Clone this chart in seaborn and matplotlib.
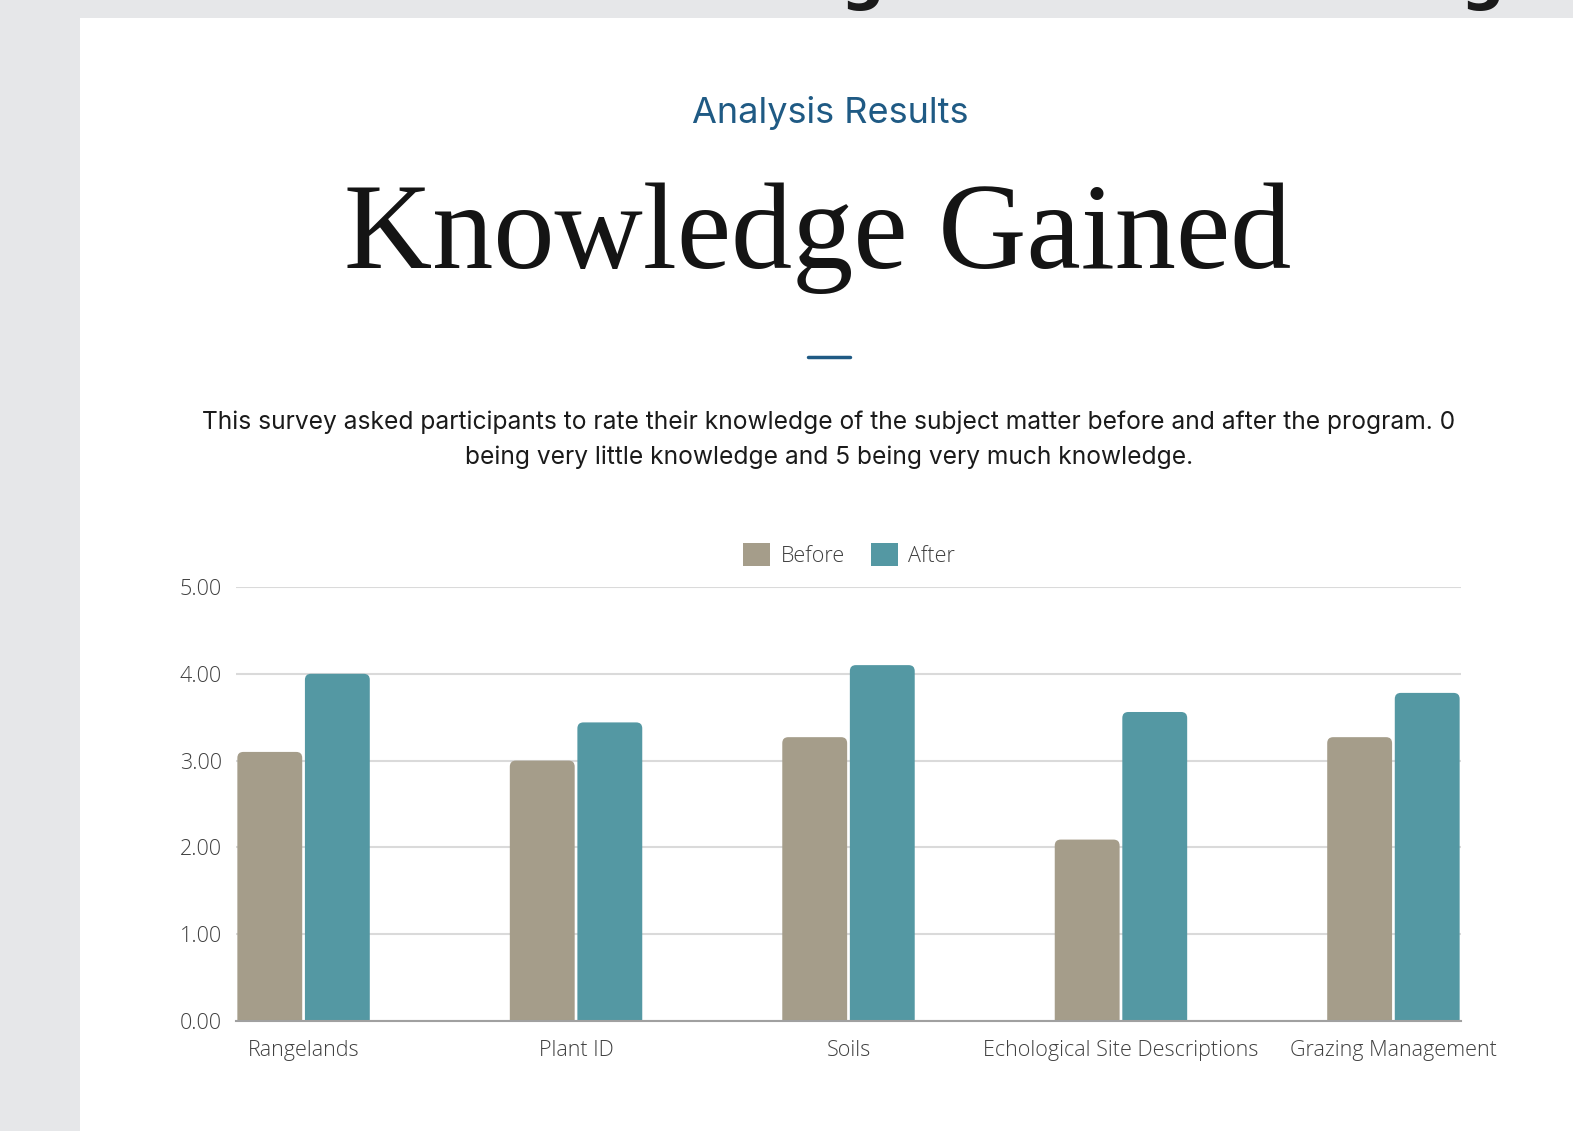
import matplotlib
matplotlib.use("Agg")
import matplotlib.pyplot as plt
import seaborn as sns
import pandas as pd
from matplotlib.patches import FancyBboxPatch, Rectangle, Patch
from matplotlib.lines import Line2D

categories = ["Rangelands", "Plant ID", "Soils", "Echological Site Descriptions", "Grazing Management"]
before = [3.10, 3.00, 3.27, 2.09, 3.27]
after = [4.00, 3.44, 4.10, 3.56, 3.78]
series_names = ["Before", "After"]
colors = ["#a59d8a", "#5498a3"]
yticks = [0, 1, 2, 3, 4, 5]

df = pd.DataFrame({
    "category": categories * 2,
    "value": before + after,
    "series": [series_names[0]] * len(categories) + [series_names[1]] * len(categories),
})

sns.set_theme(style="white")
plt.rcParams["font.family"] = ["Open Sans", "DejaVu Sans"]

W, H = 1573, 1131
fig = plt.figure(figsize=(W / 100, H / 100), dpi=100)
fig.patch.set_facecolor("#e6e7e9")
fig.add_artist(Rectangle((80 / W, 0), 1, 1 - 18 / H, transform=fig.transFigure,
                         facecolor="white", edgecolor="none", zorder=-5))

# cut-off glyphs from the page above
for gx, s in [(862, "g"), (1482, "g")]:
    fig.text(gx / W, 1 + 2 / H, s, fontsize=44, fontweight="bold", color="#1a1a1a",
             ha="center", va="baseline", family=["DejaVu Sans"])

ax = fig.add_axes([236 / W, 1 - 1021 / H, (1461 - 236) / W, (1021 - 587) / H])
ax.set_facecolor("none")

sns.barplot(data=df, x="category", y="value", hue="series", palette=colors,
            order=categories, hue_order=series_names, width=0.496, gap=0.04,
            saturation=1, legend=False, ax=ax, errorbar=None)

# rounded top corners
for p in list(ax.patches):
    x, w, h = p.get_x(), p.get_width(), p.get_height()
    fc = p.get_facecolor()
    p.remove()
    fb = FancyBboxPatch((x, -0.3), w, h + 0.3,
                        boxstyle="round,pad=0,rounding_size=0.022",
                        mutation_aspect=3.15, facecolor=fc, edgecolor="none",
                        zorder=2, clip_on=True)
    ax.add_patch(fb)

ax.set_xlim(-0.248, 4.248)
ax.set_ylim(0, 5)
ax.set_yticks(yticks)
ax.set_yticklabels([f"{v:.2f}" for v in yticks])
ax.set_xlabel("")
ax.set_ylabel("")
ax.set_axisbelow(True)
ax.yaxis.grid(True, color="#dadada", linewidth=1.5)
ax.xaxis.grid(False)
for s in ["top", "right", "left"]:
    ax.spines[s].set_visible(False)
ax.spines["bottom"].set_color("#a0a0a0")
ax.spines["bottom"].set_linewidth(1.5)
ax.spines["bottom"].set_zorder(3)
ax.tick_params(axis="y", length=0, pad=10, labelsize=15.5, labelcolor="#404040")
ax.tick_params(axis="x", length=0, pad=14, labelsize=15.5, labelcolor="#404040")
for lab in ax.get_xticklabels() + ax.get_yticklabels():
    lab.set_fontweight("light")

handles = [Patch(facecolor=c, edgecolor="none") for c in colors]
leg = fig.legend(handles, series_names, loc="center", bbox_to_anchor=(849 / W, 1 - 555 / H),
                 ncol=2, frameon=False, fontsize=15.5, handlelength=1.25, handleheight=1.25,
                 handletextpad=0.5, columnspacing=1.2)
for t in leg.get_texts():
    t.set_color("#404040")
    t.set_fontweight("light")

# header texts
fig.text(830 / W, 1 - 113 / H, "Analysis Results", ha="center", va="center",
         fontsize=26, color="#1f5a84", family=["Inter", "DejaVu Sans"])
fig.text(818 / W, 1 - 268 / H, "Knowledge Gained", ha="center", va="baseline",
         fontsize=88, color="#141414", family=["Liberation Serif", "DejaVu Serif"])
fig.add_artist(Line2D([808 / W, 850 / W], [1 - 357 / H, 1 - 357 / H],
                      transform=fig.transFigure, color="#1f5a84", linewidth=2.5))
fig.text(829 / W, 1 - 440 / H,
         "This survey asked participants to rate their knowledge of the subject matter before and after the program. 0\nbeing very little knowledge and 5 being very much knowledge.",
         ha="center", va="center", fontsize=17.7, color="#1a1a1a", linespacing=1.6,
         family=["Inter", "DejaVu Sans"])

fig.savefig("out.png", dpi=100)
